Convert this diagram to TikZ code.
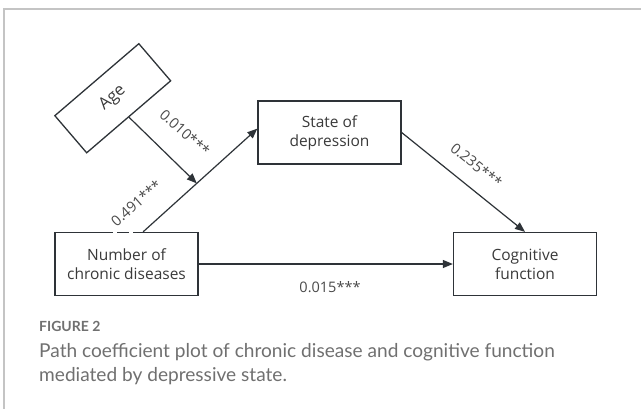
\documentclass[tikz,border=0pt]{standalone}
\usepackage{fontspec}
\setmainfont{Open Sans}
\newfontfamily\capfont{Lato}
\usetikzlibrary{arrows.meta,calc}
\definecolor{ln}{HTML}{2E3338}
\definecolor{tx}{HTML}{3A3A3A}
\definecolor{lab}{HTML}{4A4A4A}
\definecolor{capgray}{HTML}{707070}
\definecolor{framegray}{HTML}{C4C4C4}
\begin{document}
\begin{tikzpicture}[x=1pt,y=-1pt,
 box/.style={draw=ln, line width=1.3pt, fill=white, minimum width=143pt, minimum height=63pt, align=center, font=\fontsize{15.5}{19}\selectfont, text=tx, inner sep=0pt},
 conn/.style={draw=ln, line width=1.2pt, -{Triangle[length=10pt,width=8pt]}},
 coef/.style={font=\fontsize{14.5}{16}\selectfont, text=lab, inner sep=1pt},
 captext/.style={anchor=base west, inner sep=0pt, text=capgray}]
\useasboundingbox (0,0) rectangle (641,408);
\fill[white] (0,0) rectangle (641,408);
\draw[framegray, line width=1.2pt] (4,430) -- (4,9) -- (660,9);
\node[box] (st) at (329.5,132.5) {State of\\depression};
\node[box] (num) at (126.5,264) {Number of\\chronic diseases};
\node[box] (cog) at (525,264) {Cognitive\\function};
\node[box, font=\fontsize{16.5}{19}\selectfont, minimum width=110.6pt, minimum height=48.9pt, rotate=40.6] (age) at (112.75,98.25) {Age};
\coordinate (a1) at ($(num.north west)!0.615!(num.north east)$);
\coordinate (a2) at ($(st.north west)!0.44!(st.south west)$);
\coordinate (m) at ($(a1)!0.47!(a2)$);
\draw[conn] (a1) -- (a2);
\draw[conn] (age.south) -- (m);
\draw[conn] (st.east) -- (cog.north);
\draw[conn] (num.east) -- (cog.west);
\draw[white, line width=2pt] (113,232) -- (117,232) (129,232) -- (133,232);
\node[coef, rotate=-42] (l1) at (185,132.5) {0.010***};
\node[coef, rotate=41] (l2) at (136,203) {0.491***};
\node[coef, rotate=-39] (l3) at (476.5,165) {0.235***};
\node[coef] (l4) at (330,287) {0.015***};
\node[captext, font=\capfont\bfseries\fontsize{14}{16}\selectfont] (fig) at (39,331) {FIGURE 2};
\node[captext, font=\capfont\fontsize{19.1}{24}\selectfont] (cap1) at (39,357) {Path coefficient plot of chronic disease and cognitive function};
\node[captext, font=\capfont\fontsize{19.1}{24}\selectfont] (cap2) at (39,381) {mediated by depressive state.};
\end{tikzpicture}
\end{document}
